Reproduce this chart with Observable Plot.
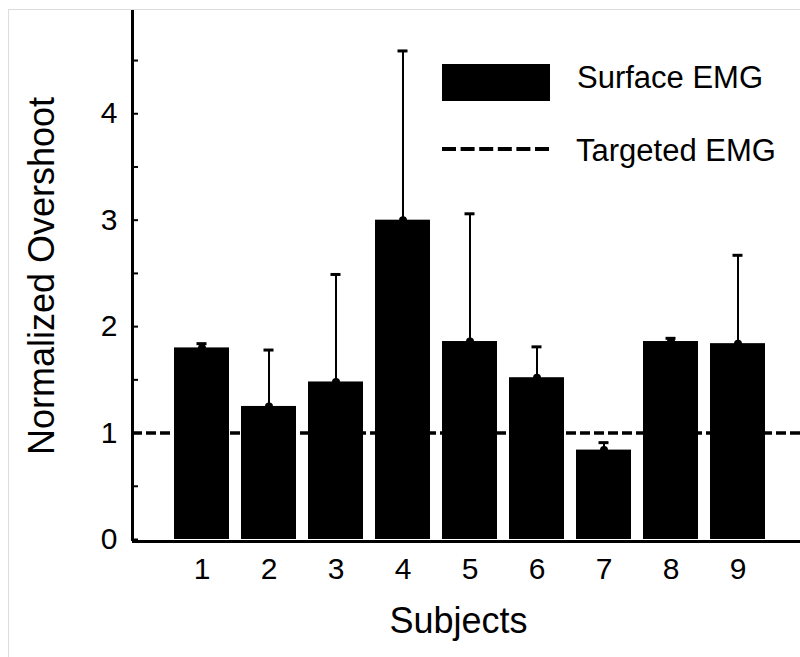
<!DOCTYPE html>
<html>
<head>
<meta charset="utf-8">
<script src="https://cdn.jsdelivr.net/npm/d3@7"></script>
<script src="https://cdn.jsdelivr.net/npm/@observablehq/plot@0.6"></script>
<style>
  html, body { margin: 0; padding: 0; background: #fff; }
  #wrap { position: relative; width: 800px; height: 657px; overflow: hidden; }
  #border { position: absolute; left: 8px; top: 9px; width: 800px; height: 660px;
            border-left: 1px solid #dcdcdc; border-top: 1px solid #dcdcdc; pointer-events: none; }
  #chart { position: absolute; left: 0; top: 0; }
</style>
</head>
<body>
<div id="wrap"><div id="chart"></div><div id="border"></div></div>
<script>
// ---- data ----
const subjects = ["1", "2", "3", "4", "5", "6", "7", "8", "9"];
const surfaceMeans = [1.80, 1.25, 1.48, 3.00, 1.86, 1.52, 0.84, 1.86, 1.84];
const surfaceErrors = [0.04, 0.53, 1.01, 1.59, 1.20, 0.29, 0.07, 0.03, 0.83];
const targetedLevel = [1];
const yLabelTicks = [0, 1, 2, 3, 4];
const yMinorTicks = [0, 0.5, 1, 1.5, 2, 2.5, 3, 3.5, 4, 4.5];
const legendLabels = ["Surface EMG", "Targeted EMG"];
const xTitle = "Subjects";
const yTitle = "Normalized Overshoot";

const rows = subjects.map((s, i) => ({subject: s, mean: surfaceMeans[i], err: surfaceErrors[i], top: surfaceMeans[i] + surfaceErrors[i]}));

const font = "'Liberation Sans', Arial, sans-serif";

const chart = Plot.plot({
  width: 800,
  height: 657,
  marginLeft: 132,
  marginRight: 0,
  marginTop: 10,
  marginBottom: 118,
  style: {fontFamily: font, background: "transparent", color: "#000"},
  x: {type: "band", domain: subjects, paddingInner: 0.18, paddingOuter: 0, insetLeft: 42, insetRight: 35},
  y: {domain: [0, 4.97]},
  marks: [
    Plot.ruleY(targetedLevel, {stroke: "#000", strokeWidth: 3.5, strokeDasharray: "10,4"}),
    Plot.ruleX(rows, {x: "subject", y1: "mean", y2: "top", stroke: "#000", strokeWidth: 2}),
    Plot.tickY(rows, {x: "subject", y: "top", stroke: "#000", strokeWidth: 3, inset: 22.5}),
    Plot.barY(rows, {x: "subject", y: "mean", fill: "#000"}),
    Plot.dot(rows, {x: "subject", y: "mean", r: 4, fill: "#000"}),
    Plot.frame({anchor: "left", stroke: "#000", strokeWidth: 3}),
    Plot.ruleY([0], {stroke: "#000", strokeWidth: 3, dy: 2}),
    Plot.axisY({ticks: yMinorTicks, tickSize: -6, tickFormat: () => "", strokeWidth: 2, label: null}),
    Plot.axisY({ticks: yLabelTicks, tickSize: 0, tickPadding: 15, fontSize: 30, tickFormat: d3.format("d"), label: null}),
    Plot.axisX({tickSize: 0, tickPadding: 18, fontSize: 30, label: null}),
    Plot.text([yTitle], {frameAnchor: "left", rotate: -90, fontSize: 36, dx: -90, dy: 1, textAnchor: "middle", lineAnchor: "middle", fill: "#000"}),
    Plot.text([xTitle], {frameAnchor: "bottom", fontSize: 36, dx: -8, dy: 81.5, textAnchor: "middle", lineAnchor: "middle", fill: "#000"})
  ]
});
document.getElementById("chart").appendChild(chart);

// ---- legend (inside plot area, top right) ----
const svg = d3.select(chart);
const lg = svg.append("g").attr("font-family", font).attr("font-size", 31).attr("fill", "#000").attr("text-anchor", "start");
lg.append("rect").attr("x", 442).attr("y", 64).attr("width", 108).attr("height", 37).attr("fill", "#000");
lg.append("text").attr("x", 577).attr("y", 88).text(legendLabels[0]);
lg.append("line").attr("x1", 442).attr("x2", 550).attr("y1", 149).attr("y2", 149)
  .attr("stroke", "#000").attr("stroke-width", 4).attr("stroke-dasharray", "14,4.6");
lg.append("text").attr("x", 576).attr("y", 161).text(legendLabels[1]);
</script>
</body>
</html>
